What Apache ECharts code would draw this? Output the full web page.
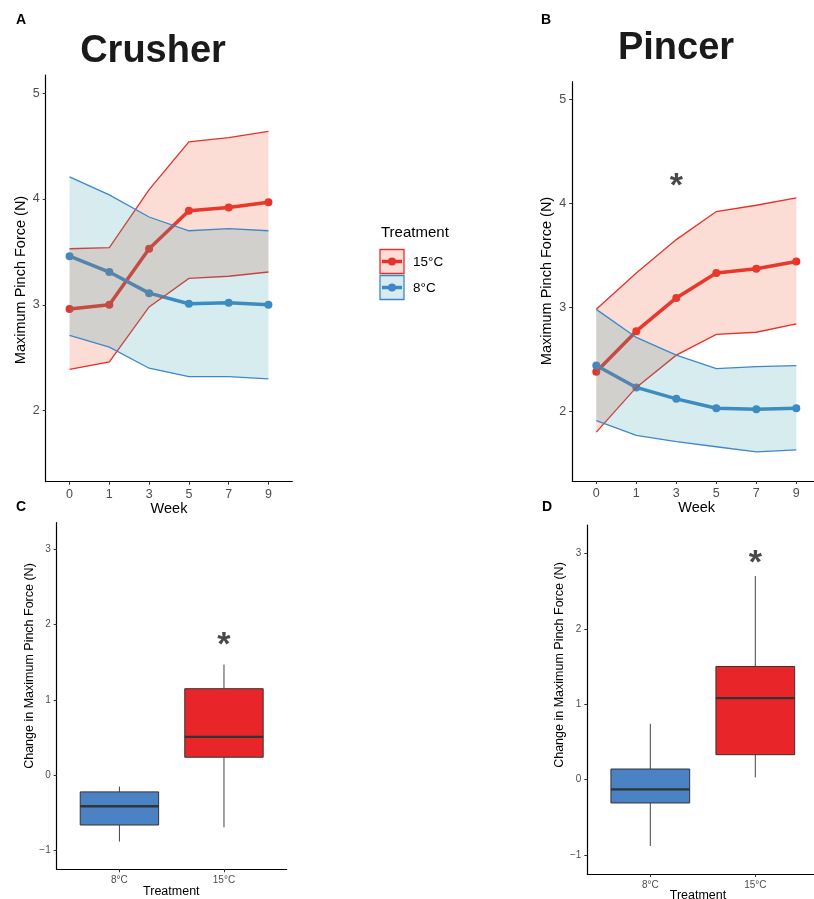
<!DOCTYPE html>
<html><head><meta charset="utf-8">
<script src="https://cdn.jsdelivr.net/npm/echarts@6/dist/echarts.min.js"></script>
<style>html,body{margin:0;padding:0;background:#fff}#c{width:814px;height:899px}</style>
</head><body><div id="c"></div>
<script>
// ---- data ----
const weeks = ['0','1','3','5','7','9'];
const weekIdx = [0,1,2,3,4,5];
// Crusher (A)
const crusherWarmMean = [2.96,3.00,3.53,3.89,3.92,3.97];
const crusherWarmUpper = [3.53,3.54,4.09,4.54,4.58,4.64];
const crusherWarmLower = [2.39,2.46,2.98,3.25,3.27,3.31];
const crusherColdMean = [3.46,3.31,3.11,3.01,3.02,3.00];
const crusherColdUpper = [4.21,4.04,3.83,3.70,3.72,3.70];
const crusherColdLower = [2.71,2.60,2.40,2.32,2.32,2.30];
// Pincer (B)
const pincerWarmMean = [2.38,2.77,3.09,3.33,3.37,3.44];
const pincerWarmUpper = [2.98,3.33,3.65,3.92,3.98,4.05];
const pincerWarmLower = [1.80,2.23,2.54,2.74,2.76,2.84];
const pincerColdMean = [2.44,2.23,2.12,2.03,2.02,2.03];
const pincerColdUpper = [2.98,2.71,2.54,2.41,2.43,2.44];
const pincerColdLower = [1.91,1.77,1.71,1.66,1.61,1.63];
// Box plots: [min, Q1, median, Q3, max]
const treatments = ['8°C','15°C'];
const crusherChangeCold = [-0.88,-0.66,-0.41,-0.22,-0.15];
const crusherChangeWarm = [-0.69,0.24,0.51,1.15,1.47];
const pincerChangeCold = [-0.88,-0.31,-0.13,0.14,0.74];
const pincerChangeWarm = [0.03,0.33,1.08,1.50,2.70];
const lineYTicks = [2,3,4,5];
const boxYTicks = [-1,0,1,2,3];
const sigWeekIdx = 2, sigPincerY = 4.22;
const sigCrusherBoxY = 1.80, sigPincerBoxY = 2.94;

// ---- style ----
const RED = '#E8302A', BLUE = '#3F87C8';
const RED_FILL = 'rgba(235,85,50,0.2)', BLUE_FILL = 'rgba(50,160,170,0.2)';
const BOX_BLUE = '#4A82C3', BOX_RED = '#E8262A';
const FONT = '"Liberation Sans", Arial, Helvetica, sans-serif';
const fmtNum = v => (v < 0 ? '\u2212' + Math.abs(v) : String(v));

const chart = echarts.init(document.getElementById('c'), null, {renderer:'canvas'});

function xLineAxis(g, max){
  return {type:'value', gridIndex:g, min:-0.6, max:max,
    axisLine:{show:true, onZero:false, lineStyle:{color:'#000', width:1.2}},
    axisTick:{show:true, customValues:weekIdx, length:3, lineStyle:{color:'#333', width:1}},
    axisLabel:{customValues:weekIdx, formatter:v=>weeks[Math.round(v)], color:'#4D4D4D', fontSize:12.5, fontFamily:FONT, margin:6},
    splitLine:{show:false}};
}
function yAxisDef(g, min, max, ticks, fs){
  return {type:'value', gridIndex:g, min:min, max:max,
    axisLine:{show:true, onZero:false, lineStyle:{color:'#000', width:1.2}},
    axisTick:{show:true, customValues:ticks, length:3, lineStyle:{color:'#333', width:1}},
    axisLabel:{customValues:ticks, formatter:fmtNum, color:'#4D4D4D', fontSize:fs, fontFamily:FONT, margin:6},
    splitLine:{show:false}};
}
function xBoxAxis(g, max){
  return {type:'value', gridIndex:g, min:-0.6, max:max,
    axisLine:{show:true, onZero:false, lineStyle:{color:'#000', width:1.2}},
    axisTick:{show:true, customValues:[0,1], length:3, lineStyle:{color:'#333', width:1}},
    axisLabel:{customValues:[0,1], formatter:v=>treatments[Math.round(v)], color:'#4D4D4D', fontSize:10, fontFamily:FONT, margin:6},
    splitLine:{show:false}};
}
function meanLine(g, vals, color){
  return {type:'line', xAxisIndex:g, yAxisIndex:g, z:2,
    data: weekIdx.map((x,i)=>[x, vals[i]]),
    symbol:'circle', symbolSize:8, showSymbol:true,
    lineStyle:{color:color, width:3.5}, itemStyle:{color:color}, animation:false, silent:true};
}
function ribbon(g, lower, upper, fill, stroke){
  return {type:'custom', xAxisIndex:g, yAxisIndex:g, z:3, animation:false, silent:true,
    data:[[0]],
    renderItem:function(params, api){
      const up = weekIdx.map((x,i)=>api.coord([x, upper[i]]));
      const lo = weekIdx.map((x,i)=>api.coord([x, lower[i]]));
      return {type:'group', children:[
        {type:'polygon', shape:{points: up.concat(lo.slice().reverse())}, style:{fill:fill}},
        {type:'polyline', shape:{points: up}, style:{fill:null, stroke:stroke, lineWidth:1.3}},
        {type:'polyline', shape:{points: lo}, style:{fill:null, stroke:stroke, lineWidth:1.3}}
      ]};
    }};
}
function boxSeries(g, items){
  return {type:'custom', xAxisIndex:g, yAxisIndex:g, animation:false, silent:true,
    data: items.map((it,i)=>[i].concat(it.v)),
    renderItem:function(params, api){
      const x = api.value(0);
      const w = api.size([0.75, 0])[0];
      const pMin = api.coord([x, api.value(1)]);
      const pQ1 = api.coord([x, api.value(2)]);
      const pMed = api.coord([x, api.value(3)]);
      const pQ3 = api.coord([x, api.value(4)]);
      const pMax = api.coord([x, api.value(5)]);
      const color = items[params.dataIndex].color;
      return {type:'group', children:[
        {type:'line', shape:{x1:pMax[0], y1:pMax[1], x2:pQ3[0], y2:pQ3[1]}, style:{stroke:'#444', lineWidth:1}},
        {type:'line', shape:{x1:pQ1[0], y1:pQ1[1], x2:pMin[0], y2:pMin[1]}, style:{stroke:'#444', lineWidth:1}},
        {type:'rect', shape:{x:pQ3[0]-w/2, y:pQ3[1], width:w, height:pQ1[1]-pQ3[1]}, style:{fill:color, stroke:'#333', lineWidth:1}},
        {type:'line', shape:{x1:pMed[0]-w/2, y1:pMed[1], x2:pMed[0]+w/2, y2:pMed[1]}, style:{stroke:'#333', lineWidth:2.4}}
      ]};
    }};
}
function star(g, x, y){
  return {type:'scatter', xAxisIndex:g, yAxisIndex:g, data:[[x,y]], symbolSize:0, animation:false, silent:true,
    label:{show:true, position:'inside', formatter:'*', fontSize:34, fontWeight:'bold', color:'#1a1a1a', fontFamily:FONT, offset:[0,6]}};
}
function txt(x, y, s, fs, opts){
  return Object.assign({type:'text', x:x, y:y, style:{text:s, fontSize:fs, fontFamily:FONT, fill:(opts&&opts.color)||'#000', textAlign:'center', textVerticalAlign:'middle', fontWeight: (opts&&opts.bold)?'bold':'normal'}}, (opts&&opts.rot)?{rotation:Math.PI/2}:{});
}

// grids B and D run past the right edge in the reference; the visible part is kept
const option = {
  backgroundColor:'#fff',
  animation:false,
  grid:[
    {left:45.7, top:75, width:246.6, height:406.7},
    {left:572.3, top:81.7, width:241.7, height:399.3},
    {left:56.7, top:522.7, width:230, height:346.6},
    {left:587.3, top:525, width:226.7, height:349}
  ],
  xAxis:[xLineAxis(0, 5.6), xLineAxis(1, 5.4425), xBoxAxis(2, 1.6), xBoxAxis(3, 1.559)],
  yAxis:[yAxisDef(0,1.327,5.173,lineYTicks,12.5), yAxisDef(1,1.331,5.167,lineYTicks,12.5),
         yAxisDef(2,-1.248,3.354,boxYTicks,10), yAxisDef(3,-1.252,3.376,boxYTicks,10)],
  series:[
    meanLine(0, crusherWarmMean, RED), meanLine(0, crusherColdMean, BLUE),
    ribbon(0, crusherWarmLower, crusherWarmUpper, RED_FILL, RED),
    ribbon(0, crusherColdLower, crusherColdUpper, BLUE_FILL, BLUE),
    meanLine(1, pincerWarmMean, RED), meanLine(1, pincerColdMean, BLUE),
    ribbon(1, pincerWarmLower, pincerWarmUpper, RED_FILL, RED),
    ribbon(1, pincerColdLower, pincerColdUpper, BLUE_FILL, BLUE),
    star(1, sigWeekIdx, sigPincerY),
    boxSeries(2, [{v:crusherChangeCold, color:BOX_BLUE},{v:crusherChangeWarm, color:BOX_RED}]),
    star(2, 1, sigCrusherBoxY),
    boxSeries(3, [{v:pincerChangeCold, color:BOX_BLUE},{v:pincerChangeWarm, color:BOX_RED}]),
    star(3, 1, sigPincerBoxY)
  ],
  graphic:[
    txt(21, 20, 'A', 14, {bold:true}),
    txt(546, 20, 'B', 14, {bold:true}),
    txt(21, 507, 'C', 14, {bold:true}),
    txt(547, 507, 'D', 14, {bold:true}),
    txt(153, 52, 'Crusher', 38, {bold:true, color:'#1a1a1a'}),
    txt(676, 49, 'Pincer', 38, {bold:true, color:'#1a1a1a'}),
    txt(20.5, 280, 'Maximum Pinch Force (N)', 14.5, {rot:true}),
    txt(546.7, 281, 'Maximum Pinch Force (N)', 14.5, {rot:true}),
    txt(169, 509, 'Week', 14.5),
    txt(696.7, 508, 'Week', 14.5),
    txt(30, 666, 'Change in Maximum Pinch Force (N)', 12.5, {rot:true}),
    txt(560, 665, 'Change in Maximum Pinch Force (N)', 12.5, {rot:true}),
    txt(171.3, 891.5, 'Treatment', 12.5),
    txt(698, 895.5, 'Treatment', 12.5),
    // legend
    {type:'text', x:381, y:233, style:{text:'Treatment', fontSize:15, fontFamily:FONT, fill:'#000', textVerticalAlign:'middle'}},
    {type:'rect', shape:{x:380, y:249.5, width:24, height:24}, style:{fill:RED_FILL, stroke:RED, lineWidth:1.3}},
    {type:'line', shape:{x1:382, y1:261.5, x2:402, y2:261.5}, style:{stroke:RED, lineWidth:3.5}},
    {type:'circle', shape:{cx:392, cy:261.5, r:4}, style:{fill:RED}},
    {type:'rect', shape:{x:380, y:275.5, width:24, height:24}, style:{fill:BLUE_FILL, stroke:BLUE, lineWidth:1.3}},
    {type:'line', shape:{x1:382, y1:287.5, x2:402, y2:287.5}, style:{stroke:BLUE, lineWidth:3.5}},
    {type:'circle', shape:{cx:392, cy:287.5, r:4}, style:{fill:BLUE}},
    {type:'text', x:413, y:262, style:{text:'15°C', fontSize:13.5, fontFamily:FONT, fill:'#000', textVerticalAlign:'middle'}},
    {type:'text', x:413, y:288, style:{text:'8°C', fontSize:13.5, fontFamily:FONT, fill:'#000', textVerticalAlign:'middle'}}
  ]
};
chart.setOption(option);
</script></body></html>
